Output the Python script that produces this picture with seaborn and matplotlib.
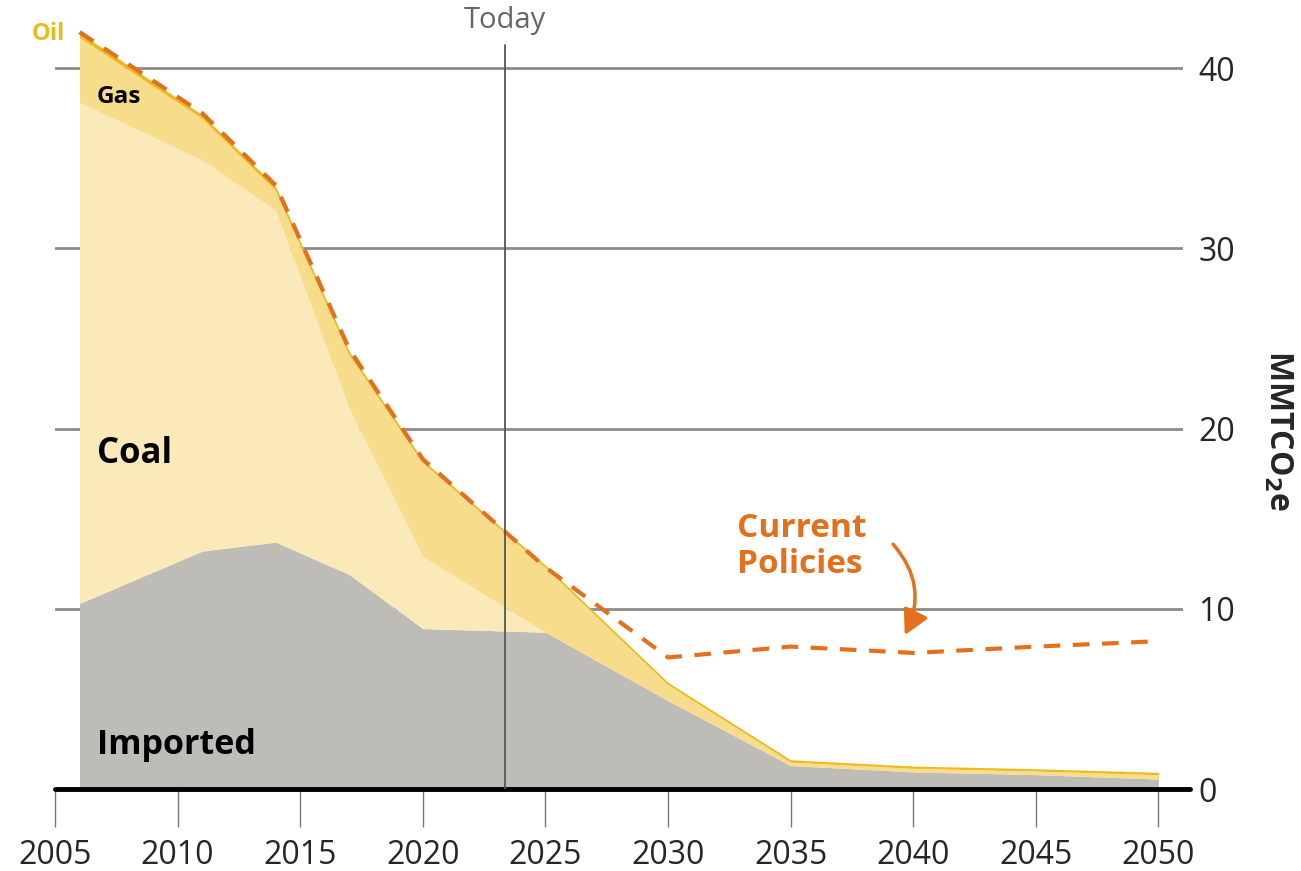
import numpy as np
import pandas as pd
import matplotlib
matplotlib.use("Agg")
import matplotlib.pyplot as plt
import seaborn as sns

sns.set_style("white")
plt.rcParams['font.family'] = ['Open Sans', 'DejaVu Sans']

# values (MMTCO2e)
years = [2006, 2011, 2014, 2017, 2020, 2025, 2030, 2035, 2040, 2045, 2050]
imported = [10.3, 13.2, 13.7, 11.9, 8.9, 8.7, 4.9, 1.3, 0.95, 0.8, 0.55]
coal = [27.8, 21.7, 18.4, 9.2, 4.0, 0.0, 0.0, 0.0, 0.0, 0.0, 0.0]
gas = [3.6, 2.3, 1.1, 3.0, 5.2, 3.6, 0.9, 0.2, 0.2, 0.2, 0.25]
oil = [0.2, 0.15, 0.15, 0.1, 0.08, 0.05, 0.05, 0.05, 0.05, 0.05, 0.05]
current_policies = [42.0, 37.5, 33.5, 24.4, 18.3, 12.3, 7.3, 7.9, 7.55, 7.9, 8.2]
today = 2023.35

xticks = list(range(2005, 2051, 5))
yticks = [0, 10, 20, 30, 40]

df = pd.DataFrame({'Year': years, 'Imported': imported, 'Coal': coal,
                   'Gas': gas, 'Oil': oil, 'Current Policies': current_policies})
df['c1'] = df['Imported']
df['c2'] = df['c1'] + df['Coal']
df['c3'] = df['c2'] + df['Gas']
df['c4'] = df['c3'] + df['Oil']

GREY = '#bdbcb6'
COAL = '#fae9b9'
GAS = '#f7dc8b'
OIL = '#ecb91c'
ORANGE = '#e4701e'

fig = plt.figure(figsize=(13.01, 8.71), dpi=100)
ax = fig.add_axes([55 / 1301, 82 / 871, 1128 / 1301, 766 / 871])

ax.fill_between(df['Year'], 0, df['c1'], color=GREY, lw=0)
ax.fill_between(df['Year'], df['c1'], df['c2'], color=COAL, lw=0)
ax.fill_between(df['Year'], df['c2'], df['c3'], color=GAS, lw=0)
ax.fill_between(df['Year'], df['c3'], df['c4'], color=OIL, lw=0)
ax.plot(df['Year'], df['c4'], color=OIL, lw=1.2)

sns.lineplot(data=df, x='Year', y='Current Policies', ax=ax, color=ORANGE,
             lw=3, dashes=False, linestyle=(0, (4, 3)))

ax.set_xlim(2005, 2051.0)
ax.set_ylim(0, 42.5)
ax.set_xticks(xticks)
ax.set_yticks(yticks)
ax.yaxis.tick_right()
ax.grid(axis='y', color='#8c8c87', lw=2)
ax.grid(axis='x', visible=False)
ax.set_axisbelow(True)
for s in ax.spines.values():
    s.set_visible(False)

ax.tick_params(axis='x', direction='out', length=27, width=1, color='#777777',
               labelsize=23, pad=9, bottom=True)
ax.tick_params(axis='y', length=0, labelsize=23, pad=11, right=False)
ax.set_xlabel('')
ax.set_ylabel('')

ax.axhline(0, color='black', lw=3.5, clip_on=False, xmax=1.006, zorder=5)
ax.axvline(today, ymax=41.3 / 42.5, color='#555555', lw=1.3, zorder=6)
ax.text(today, 42.65, 'Today', ha='center', va='center', fontsize=21,
        color='#666666', clip_on=False)

ax.text(2004.05, 41.9, 'Oil', ha='left', va='center', fontsize=17,
        fontweight='bold', color=OIL, clip_on=False)
ax.text(2006.7, 38.4, 'Gas', ha='left', va='center', fontsize=17.5,
        fontweight='bold', color='black')
ax.text(2006.7, 18.6, 'Coal', ha='left', va='center', fontsize=25,
        fontweight='bold', color='black')
ax.text(2006.7, 2.45, 'Imported', ha='left', va='center', fontsize=24.5,
        fontweight='bold', color='black')
ax.text(2032.8, 13.45, 'Current\nPolicies', ha='left', va='center',
        fontsize=24, fontweight='bold', color=ORANGE, linespacing=1.1)
ax.annotate('', xy=(2039.6, 8.4), xytext=(2039.1, 13.7),
            arrowprops=dict(arrowstyle='-|>,head_length=1.5,head_width=0.8',
                            color=ORANGE, lw=2.5,
                            connectionstyle='arc3,rad=-0.35'))

fig.text(1278 / 1301, 0.506, r'MMTCO$_\mathbf{2}$e', rotation=270,
         ha='center', va='center', fontsize=23, fontweight='bold')

plt.savefig('out.png', dpi=100)
